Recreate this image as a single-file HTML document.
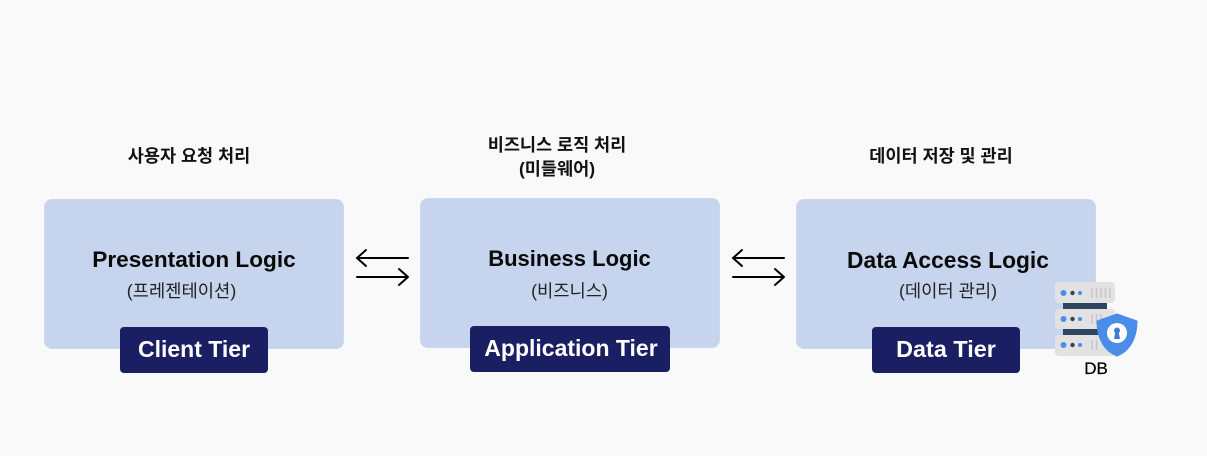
<!DOCTYPE html>
<html><head><meta charset="utf-8">
<style>
html,body{margin:0;padding:0;width:1207px;height:456px;overflow:hidden;background:#f9f9f9}
body{position:relative;font-family:"Liberation Sans","Noto Sans CJK KR",sans-serif}
.box{position:absolute;width:298px;height:148px;background:#c6d4ed;border-radius:8px;border:1px solid #cbd8ef}
.tier{position:absolute;background:#1a1f63;color:#fff;border-radius:4px;height:46px;line-height:45px;text-align:center;font-size:23px;font-weight:bold}
.t{position:absolute;white-space:nowrap;text-align:center;transform:translateX(-50%);color:#000}
.title{font-weight:bold;line-height:28px;color:#0a0a0a}
.sub{font-size:17.7px;line-height:20px;color:#222}
.head{font-size:17.5px;font-weight:bold;line-height:24px;color:#111}
svg{position:absolute;left:0;top:0}
</style></head><body>
<div class="box" style="left:44px;top:199px"></div>
<div class="box" style="left:420px;top:198px"></div>
<div class="box" style="left:796px;top:199px"></div>

<div class="t head" style="left:189px;top:143.500px">사용자 요청 처리</div>
<div class="t head" style="left:557px;top:132.500px">비즈니스 로직 처리<br>(미들웨어)</div>
<div class="t head" style="left:941px;top:143.500px">데이터 저장 및 관리</div>

<div class="t title" style="left:194px;top:246px;font-size:22.6px">Presentation Logic</div>
<div class="t title" style="left:569.500px;top:245px;font-size:22px">Business Logic</div>
<div class="t title" style="left:948px;top:246px;font-size:22.800px">Data Access Logic</div>

<div class="t sub" style="left:181.500px;top:280.500px">(프레젠테이션)</div>
<div class="t sub" style="left:569.500px;top:280.500px">(비즈니스)</div>
<div class="t sub" style="left:948px;top:280.500px">(데이터 관리)</div>

<div class="tier" style="left:120px;top:327px;width:148px">Client Tier</div>
<div class="tier" style="left:470px;top:326px;width:200px;text-indent:2px">Application Tier</div>
<div class="tier" style="left:872px;top:327px;width:148px;font-size:23.4px">Data Tier</div>

<svg width="1207" height="456" fill="none">
<g stroke="#000" stroke-width="2" stroke-linecap="round" stroke-linejoin="round">
<path d="M357 258H408M366 250L357 258L366 266"/>
<path d="M357 277H408M399 269L408 277L399 285"/>
<path d="M733 258H784M742 250L733 258L742 266"/>
<path d="M733 277H784M775 269L784 277L775 285"/>
</g>
<rect x="1063" y="303" width="44" height="6" fill="#2f4460"/>
<rect x="1063" y="329" width="44" height="6" fill="#2f4460"/>
<rect x="1055" y="282" width="60" height="21" rx="4" fill="#e2e2e2"/>
<rect x="1055" y="309" width="60" height="20" rx="4" fill="#e2e2e2"/>
<rect x="1055" y="335" width="60" height="21" rx="4" fill="#e2e2e2"/>
<g>
<circle cx="1063.500" cy="293" r="3" fill="#4a8df0"/><circle cx="1072.500" cy="293" r="2.200" fill="#2f4460"/><circle cx="1080" cy="293" r="2" fill="#4a8df0"/>
<circle cx="1063.500" cy="319" r="3" fill="#4a8df0"/><circle cx="1072.500" cy="319" r="2.200" fill="#2f4460"/><circle cx="1080" cy="319" r="2" fill="#4a8df0"/>
<circle cx="1063.500" cy="345" r="3" fill="#4a8df0"/><circle cx="1072.500" cy="345" r="2.200" fill="#2f4460"/><circle cx="1080" cy="345" r="2" fill="#4a8df0"/>
</g>
<g stroke="#c6c6c6" stroke-width="1.500">
<path d="M1092 288V298M1096.500 288V298M1101 288V298M1105.500 288V298M1110 288V298"/>
<path d="M1092 314V324M1096.500 314V324M1101 314V324"/>
<path d="M1092 340V350M1096.500 340V350"/>
</g>
<path d="M1117 314L1137 321C1137 338 1130 351 1117 356C1104 351 1097 338 1097 321Z" fill="#4a8de8" stroke="#4a8de8" stroke-width="1" stroke-linejoin="round"/>
<circle cx="1117" cy="333" r="10" fill="#fff"/>
<circle cx="1117" cy="330.500" r="3" fill="#3f7fd6"/>
<path d="M1115.500 331H1118.500L1120 339H1114Z" fill="#3f7fd6"/>
</svg>
<div class="t" style="left:1096px;top:358px;font-size:17px;line-height:22px;color:#000;-webkit-text-stroke:.25px #000">DB</div>
</body></html>
